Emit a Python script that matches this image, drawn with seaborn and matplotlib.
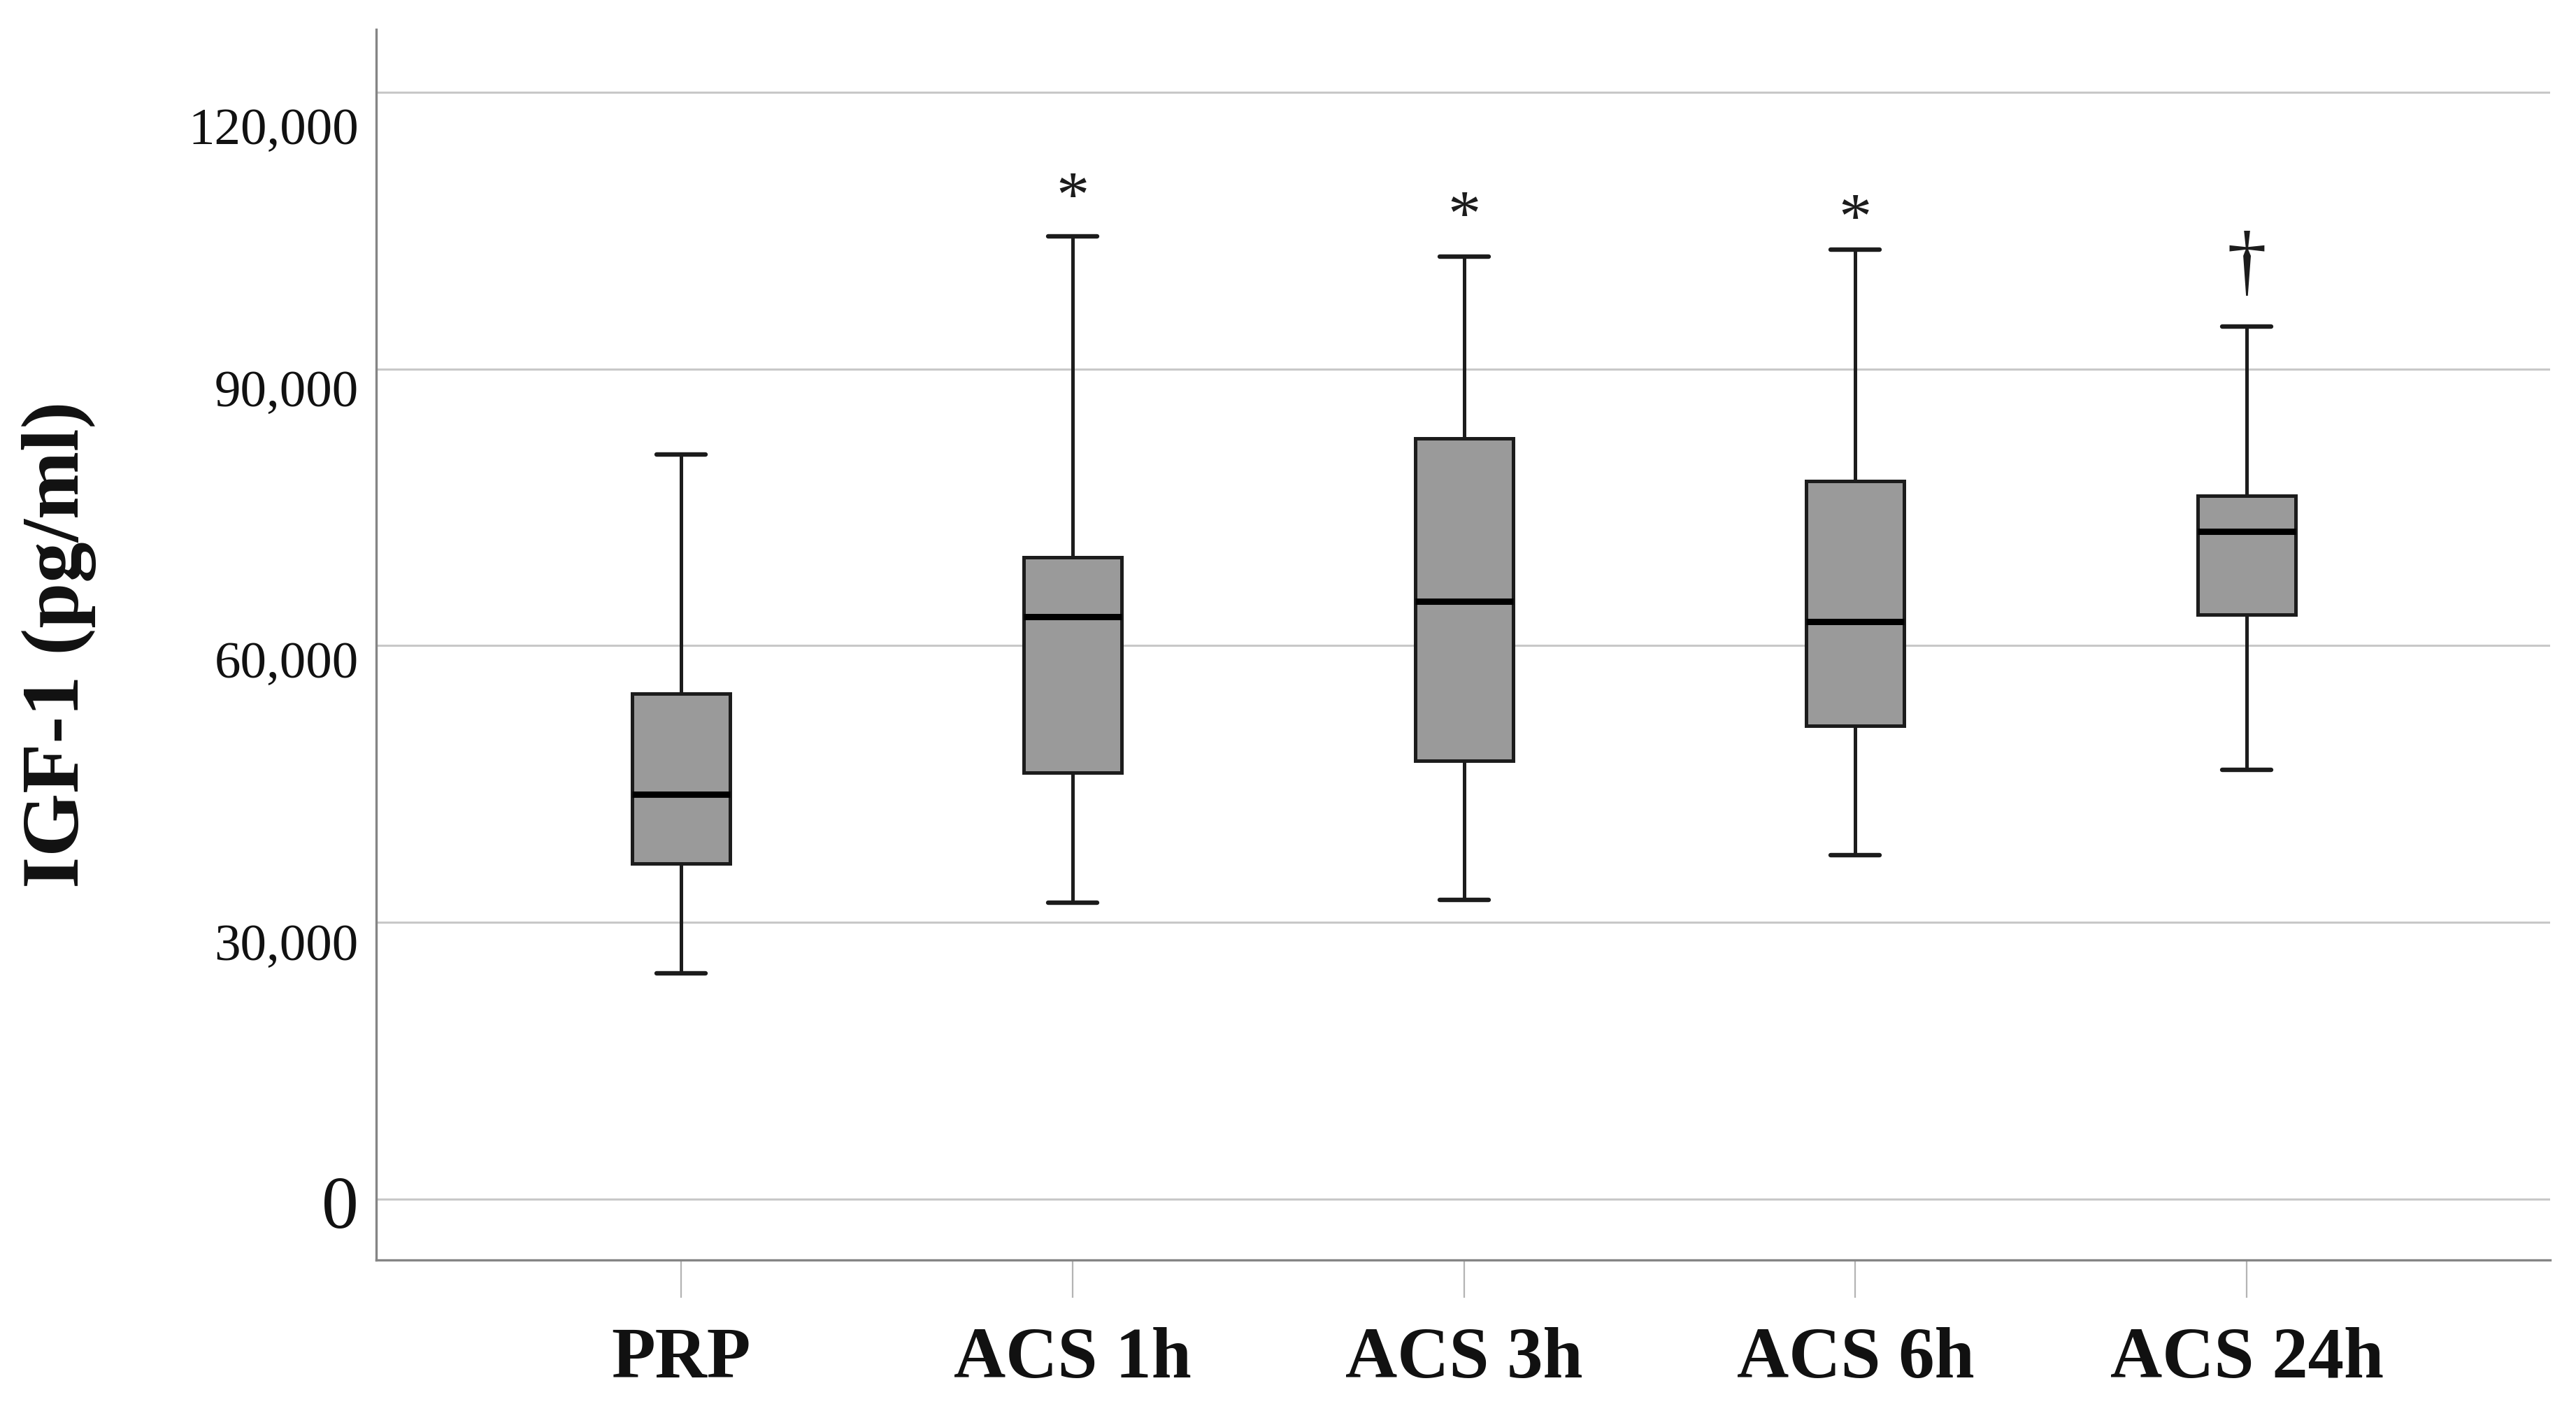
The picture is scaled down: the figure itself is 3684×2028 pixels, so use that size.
import matplotlib
matplotlib.use('Agg')
import matplotlib.pyplot as plt
import matplotlib.transforms as mtransforms
import numpy as np
import pandas as pd
import seaborn as sns

# five-number summaries (min, Q1, median, Q3, max)
groups = ['PRP', 'ACS 1h', 'ACS 3h', 'ACS 6h', 'ACS 24h']
whisker_low = [24460, 32170, 32460, 37280, 46550]
q1 = [36350, 46270, 47540, 51310, 63360]
median = [43890, 63140, 64820, 62610, 72360]
q3 = [54790, 69570, 82440, 77860, 76240]
whisker_high = [80700, 104360, 102150, 102910, 94610]

# significance marks above the whiskers
marks = ['*', '*', '*', '\u2020']
mark_groups = ['ACS 1h', 'ACS 3h', 'ACS 6h', 'ACS 24h']
mark_y = [108300, 106200, 105900, 101000]
mark_size = [68, 68, 68, 82]

yticks = [0, 30000, 60000, 90000, 120000]
ytick_labels = ['0', '30,000', '60,000', '90,000', '120,000']


def build_frame():
    """long-form table, 5 points per group so quartiles land on the read values"""
    rows = []
    for i, g in enumerate(groups):
        for v in (whisker_low[i], q1[i], median[i], q3[i], whisker_high[i]):
            rows.append({'Group': g, 'IGF-1': v})
    return pd.DataFrame(rows)


def main():
    sns.set_style('white')
    plt.rcParams['font.family'] = ['Liberation Serif', 'DejaVu Serif']

    df = build_frame()

    fig = plt.figure(figsize=(36.84, 20.28), dpi=100)
    ax = fig.add_axes([0.1460, 0.1114, 0.8439, 0.8679])

    sns.boxplot(
        data=df, x='Group', y='IGF-1', order=groups, ax=ax,
        color='#9a9a9a', saturation=1, width=0.25, whis=(0, 100),
        showfliers=False, linecolor='#1c1c1c', linewidth=3.6,
        medianprops={'color': 'black', 'linewidth': 6.5},
        whiskerprops={'color': '#1c1c1c', 'linewidth': 3.6},
        capprops={'color': '#1c1c1c', 'linewidth': 4.6},
    )

    for m, g, y, fs in zip(marks, mark_groups, mark_y, mark_size):
        ax.text(groups.index(g), y, m, ha='center', va='center',
                fontsize=fs, color='#1c1c1c')

    ax.set_xlim(-0.78, 4.775)
    ax.set_ylim(-6600, 126800)
    ax.set_yticks(yticks)
    ax.set_yticklabels(ytick_labels)
    ax.yaxis.grid(True, color='#c8c8c8', linewidth=2.2)
    ax.xaxis.grid(False)
    ax.set_axisbelow(True)

    for side in ['top', 'right']:
        ax.spines[side].set_visible(False)
    for side in ['left', 'bottom']:
        ax.spines[side].set_color('#858585')
        ax.spines[side].set_linewidth(2.4)

    ax.tick_params(axis='y', left=False, length=0, pad=18, labelsize=54,
                   labelcolor='#111111')
    ax.tick_params(axis='x', bottom=True, length=39, width=1.6, color='#b4b4b4',
                   pad=30, labelsize=74, labelcolor='#111111')
    for lab in ax.get_xticklabels():
        lab.set_fontweight('bold')

    # SPSS export puts the value labels slightly under their gridlines
    offsets_px = [-4, -28, -20, -28, -48]
    for lab, dy in zip(ax.get_yticklabels(), offsets_px):
        if lab.get_text() == '0':
            lab.set_fontsize(76)
        lab.set_transform(lab.get_transform() +
                          mtransforms.ScaledTranslation(0, dy / 100, fig.dpi_scale_trans))

    ax.set_xlabel('')
    ax.set_ylabel('IGF-1 (pg/ml)', fontsize=84, fontweight='bold', color='#111111')
    ax.yaxis.set_label_coords(-0.1457, 0.5)
    ax.yaxis.label.set_verticalalignment('center')

    fig.savefig('out.png', dpi=100, facecolor='white')
    plt.close(fig)


if __name__ == '__main__':
    main()
